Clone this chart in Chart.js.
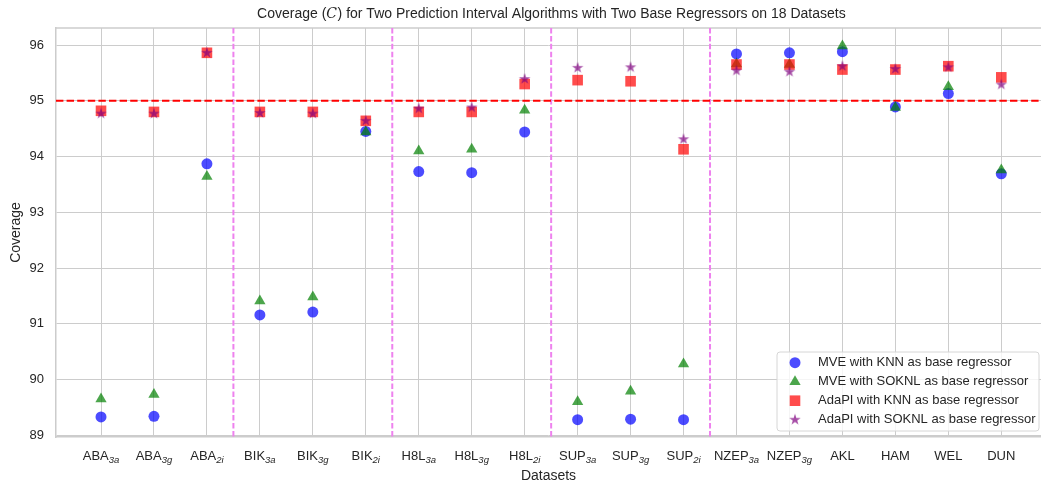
<!DOCTYPE html>
<html lang="en">
<head>
    <meta charset="UTF-8">
    <title>Coverage for Two Prediction Interval Algorithms</title>
    <style>
        * { margin: 0; padding: 0; box-sizing: border-box; }
        body { background: #fff; }
        #chart-container { width: 1041px; height: 483px; }
    </style>
</head>
<body>
    <div id="chart-container">
        <canvas id="coverageChart" width="1041" height="483"></canvas>
    </div>

    <script src="https://cdn.jsdelivr.net/npm/chart.js"></script>
    <script>
        // Datasets on the x axis (name + subscript)
        const datasetNames = ['ABA', 'ABA', 'ABA', 'BIK', 'BIK', 'BIK', 'H8L', 'H8L', 'H8L',
                              'SUP', 'SUP', 'SUP', 'NZEP', 'NZEP', 'AKL', 'HAM', 'WEL', 'DUN'];
        const datasetSubs = ['3a', '3g', '2i', '3a', '3g', '2i', '3a', '3g', '2i',
                             '3a', '3g', '2i', '3a', '3g', '', '', '', ''];

        // Coverage values (%)
        const mveKnn     = [89.33, 89.34, 93.87, 91.16, 91.21, 94.45, 93.73, 93.71, 94.44,
                            89.28, 89.29, 89.28, 95.84, 95.86, 95.88, 94.89, 95.13, 93.69];
        const mveSoknl   = [89.65, 89.73, 93.64, 91.41, 91.48, 94.44, 94.10, 94.13, 94.83,
                            89.60, 89.79, 90.28, 95.66, 95.65, 95.98, 94.88, 95.25, 93.76];
        const adapiKnn   = [94.82, 94.80, 95.86, 94.80, 94.80, 94.64, 94.80, 94.80, 95.30,
                            95.37, 95.35, 94.13, 95.65, 95.65, 95.56, 95.56, 95.62, 95.42];
        const adapiSoknl = [94.77, 94.77, 95.86, 94.78, 94.77, 94.64, 94.86, 94.88, 95.39,
                            95.59, 95.60, 94.31, 95.54, 95.52, 95.62, 95.57, 95.60, 95.29];

        const seriesLabels = ['MVE with KNN as base regressor', 'MVE with SOKNL as base regressor',
                              'AdaPI with KNN as base regressor', 'AdaPI with SOKNL as base regressor'];

        const targetCoverage = 95;
        const groupSeparators = [2.5, 5.5, 8.5, 11.5];

        const FONT = '"Liberation Sans", Arial, sans-serif';
        const TEXT = '#262626';

        // filled 5-point star like matplotlib's '*'
        function makeStar(R, color) {
            const s = Math.ceil(R * 2) + 2;
            const c = document.createElement('canvas');
            c.width = s; c.height = s;
            const g = c.getContext('2d');
            g.fillStyle = color;
            g.beginPath();
            for (let k = 0; k < 10; k++) {
                const r = k % 2 === 0 ? R : R * 0.382;
                const a = -Math.PI / 2 + k * Math.PI / 5;
                const px = s / 2 + r * Math.cos(a), py = s / 2 + r * Math.sin(a);
                if (k === 0) g.moveTo(px, py); else g.lineTo(px, py);
            }
            g.closePath();
            g.fill();
            return c;
        }

        const starImg = makeStar(6, 'rgba(128, 0, 128, 0.7)');

        function toPoints(arr) {
            return arr.map((v, i) => ({ x: i, y: v }));
        }

        const decorations = {
            id: 'decorations',
            beforeDatasetsDraw(chart) {
                const { ctx, chartArea: a, scales: { x, y } } = chart;
                ctx.save();
                // top spine
                ctx.strokeStyle = '#cccccc';
                ctx.lineWidth = 1.5;
                ctx.beginPath();
                ctx.moveTo(a.left, a.top);
                ctx.lineTo(a.right, a.top);
                ctx.stroke();

                // group separators
                ctx.strokeStyle = 'violet';
                ctx.lineWidth = 2;
                ctx.setLineDash([5.5, 2.4]);
                groupSeparators.forEach(v => {
                    const px = x.getPixelForValue(v);
                    ctx.beginPath();
                    ctx.moveTo(px, a.top);
                    ctx.lineTo(px, a.bottom);
                    ctx.stroke();
                });

                // target coverage line
                ctx.strokeStyle = 'red';
                ctx.lineWidth = 2.2;
                ctx.setLineDash([7.4, 3.2]);
                const py = y.getPixelForValue(targetCoverage);
                ctx.beginPath();
                ctx.moveTo(a.left, py);
                ctx.lineTo(a.right, py);
                ctx.stroke();
                ctx.restore();
            },
            afterDraw(chart) {
                const { ctx, scales: { x } } = chart;
                ctx.save();
                ctx.fillStyle = TEXT;

                // title (centered on the axes)
                const cx = (x.getPixelForValue(-0.85) + x.getPixelForValue(17.85)) / 2;
                const t1 = 'Coverage (', t2 = 'C', t3 = ') for Two Prediction Interval Algorithms with Two Base Regressors on 18 Datasets';
                const fMain = '14px ' + FONT, fC = 'italic 14px "DejaVu Serif", serif';
                ctx.font = fMain; const w1 = ctx.measureText(t1).width, w3 = ctx.measureText(t3).width;
                ctx.font = fC; const w2 = ctx.measureText(t2).width;
                let tx = cx - (w1 + w2 + w3) / 2;
                ctx.textBaseline = 'alphabetic';
                ctx.textAlign = 'left';
                ctx.font = fMain; ctx.fillText(t1, tx, 18); tx += w1;
                ctx.font = fC; ctx.fillText(t2, tx, 18); tx += w2 + 0.5;
                ctx.font = fMain; ctx.fillText(t3, tx, 18);

                // x tick labels with subscripts
                datasetNames.forEach((name, i) => {
                    const sub = datasetSubs[i];
                    ctx.font = '13px ' + FONT;
                    const wm = ctx.measureText(name).width;
                    ctx.font = 'italic 9.5px ' + FONT;
                    const ws = sub ? ctx.measureText(sub).width : 0;
                    const px = x.getPixelForValue(i);
                    const lx = px - (wm + ws) / 2;
                    ctx.font = '13px ' + FONT;
                    ctx.fillText(name, lx, 460);
                    if (sub) {
                        ctx.font = 'italic 9.5px ' + FONT;
                        ctx.fillText(sub, lx + wm, 463);
                    }
                });

                // legend box
                const bx = 777, by = 352, bw = 262, bh = 79;
                ctx.beginPath();
                ctx.roundRect(bx, by, bw, bh, 3);
                ctx.fillStyle = 'rgba(255,255,255,0.8)';
                ctx.fill();
                ctx.strokeStyle = '#d6d6d6';
                ctx.lineWidth = 1;
                ctx.stroke();

                chart.data.datasets.forEach((ds, k) => {
                    const my = 362.7 + k * 19;
                    ctx.fillStyle = ds.backgroundColor;
                    if (ds.pointStyle instanceof HTMLCanvasElement) {
                        ctx.drawImage(ds.pointStyle, 795 - ds.pointStyle.width / 2, my - ds.pointStyle.height / 2);
                    } else {
                        Chart.helpers.drawPoint(ctx, {
                            pointStyle: ds.pointStyle, radius: ds.pointRadius, rotation: 0, borderWidth: 0
                        }, 795, my);
                    }
                    ctx.fillStyle = TEXT;
                    ctx.font = '13px ' + FONT;
                    ctx.textBaseline = 'middle';
                    ctx.fillText(ds.label, 818, my);
                    ctx.textBaseline = 'alphabetic';
                });
                ctx.restore();
            }
        };

        const ctx = document.getElementById('coverageChart').getContext('2d');
        new Chart(ctx, {
            type: 'scatter',
            data: {
                datasets: [
                    { label: seriesLabels[0], data: toPoints(mveKnn), pointStyle: 'circle', pointRadius: 5.5,
                      backgroundColor: 'rgba(0, 0, 255, 0.7)', borderWidth: 0, order: 3 },
                    { label: seriesLabels[1], data: toPoints(mveSoknl), pointStyle: 'triangle', pointRadius: 6.5,
                      backgroundColor: 'rgba(0, 128, 0, 0.7)', borderWidth: 0, order: 2 },
                    { label: seriesLabels[2], data: toPoints(adapiKnn), pointStyle: 'rect', pointRadius: 7.5,
                      backgroundColor: 'rgba(255, 0, 0, 0.7)', borderWidth: 0, order: 1 },
                    { label: seriesLabels[3], data: toPoints(adapiSoknl), pointStyle: starImg, pointRadius: 6,
                      backgroundColor: 'rgba(128, 0, 128, 0.7)', borderWidth: 0, order: 0 }
                ]
            },
            options: {
                responsive: false,
                animation: false,
                events: [],
                layout: { autoPadding: false, padding: { top: 28, right: 0, bottom: 0, left: 0 } },
                plugins: {
                    legend: { display: false },
                    title: { display: false },
                    tooltip: { enabled: false }
                },
                scales: {
                    x: {
                        type: 'linear',
                        min: -0.85,
                        max: 17.75,
                        afterFit(s) { s.height = 46; },
                        ticks: { display: false, stepSize: 1, includeBounds: false },
                        grid: { color: '#cccccc', lineWidth: 1, drawTicks: false },
                        border: { color: '#cccccc', width: 1.5 },
                        title: {
                            display: true, text: 'Datasets', color: TEXT,
                            font: { family: FONT, size: 14, lineHeight: 1 },
                            padding: { top: 0, bottom: 0 }
                        }
                    },
                    y: {
                        min: 88.97,
                        max: 96.305,
                        afterFit(s) { s.width = 56; },
                        ticks: { stepSize: 1, includeBounds: false, padding: 12, color: TEXT,
                                 font: { family: FONT, size: 13 } },
                        grid: { color: '#cccccc', lineWidth: 1, drawTicks: false },
                        border: { color: '#cccccc', width: 1.5 },
                        title: {
                            display: true, text: 'Coverage', color: TEXT,
                            font: { family: FONT, size: 14, lineHeight: 1 },
                            padding: { top: 9, bottom: 0 }
                        }
                    }
                }
            },
            plugins: [decorations]
        });
    </script>
</body>
</html>
